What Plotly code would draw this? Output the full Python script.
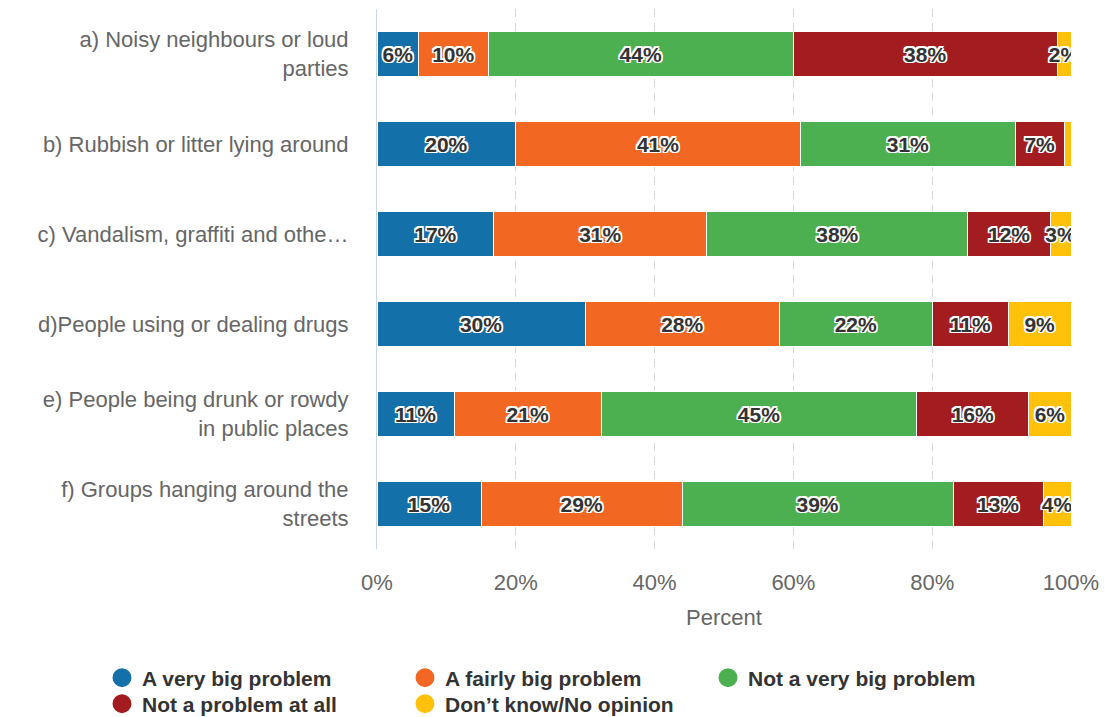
import plotly.graph_objects as go

categories = [
    "a) Noisy neighbours or loud<br>parties",
    "b) Rubbish or litter lying around",
    "c) Vandalism, graffiti and othe…",
    "d)People using or dealing drugs",
    "e) People being drunk or rowdy<br>in public places",
    "f) Groups hanging around the<br>streets",
]

series_names = [
    "A very big problem",
    "A fairly big problem",
    "Not a very big problem",
    "Not a problem at all",
    "Don’t know/No opinion",
]

very_big = [6, 20, 17, 30, 11, 15]
fairly_big = [10, 41, 31, 28, 21, 29]
not_very_big = [44, 31, 38, 22, 45, 39]
not_at_all = [38, 7, 12, 11, 16, 13]
dont_know = [2, 1, 3, 9, 6, 4]

series_values = [very_big, fairly_big, not_very_big, not_at_all, dont_know]
colors = ["#1470a9", "#f26722", "#4caf50", "#a31c1f", "#ffc10a"]

x_ticks = [0, 20, 40, 60, 80, 100]
x_tick_labels = ["0%", "20%", "40%", "60%", "80%", "100%"]

W, H = 1105, 717
FONT = "Liberation Sans, Arial, sans-serif"
outline = ("-1.5px -1.5px 0 #fff, 1.5px -1.5px 0 #fff, -1.5px 1.5px 0 #fff, 1.5px 1.5px 0 #fff, "
           "0 -1.5px 0 #fff, 0 1.5px 0 #fff, -1.5px 0 0 #fff, 1.5px 0 0 #fff")

# legend grid: three columns, two rows (pixel positions of each entry)
legend_ids = ["legend", "legend2", "legend3", "legend4", "legend5"]
legend_pos = [(102, 678), (405, 678), (708, 678), (102, 704), (405, 704)]

fig = go.Figure()
for name, vals, col, lg in zip(series_names, series_values, colors, legend_ids):
    labels = [f"{v}%" if v >= 2 else "" for v in vals]
    fig.add_trace(go.Bar(
        y=categories, x=vals, orientation="h", name=name,
        marker=dict(color=col, line=dict(color="#ffffff", width=1)),
        text=labels, textposition="inside", insidetextanchor="middle",
        textangle=0, constraintext="none",
        textfont=dict(family=FONT, size=21, color="#333333", weight="bold", shadow=outline),
        showlegend=False, hoverinfo="skip",
    ))
    # round legend swatch
    fig.add_trace(go.Scatter(
        x=[None], y=[None], mode="markers", name=name, legend=lg,
        marker=dict(symbol="circle", size=16, color=col, line=dict(color=col, width=3)),
        showlegend=True,
    ))

legend_layout = {}
for lg, (px, py) in zip(legend_ids, legend_pos):
    legend_layout[lg] = dict(
        orientation="h", xref="container", yref="container",
        x=px / W, y=1 - py / H, xanchor="left", yanchor="middle",
        bgcolor="rgba(0,0,0,0)", borderwidth=0,
        font=dict(family=FONT, size=21, color="#333333", weight="bold"),
        itemclick=False, itemdoubleclick=False,
    )

PLOT_L, PLOT_W, PLOT_T, PLOT_B = 377, 694, 9, 549

fig.update_layout(
    width=W, height=H,
    barmode="stack", barnorm="percent", bargap=0.51,
    plot_bgcolor="#ffffff", paper_bgcolor="#ffffff",
    margin=dict(l=PLOT_L, r=W - PLOT_L - PLOT_W, t=PLOT_T, b=H - PLOT_B, autoexpand=False),
    font=dict(family=FONT, color="#666666"),
    xaxis=dict(
        range=[0, 100], tickvals=x_ticks, ticktext=x_tick_labels,
        tickfont=dict(size=22, color="#666666"),
        showgrid=True, gridcolor="#d8d8d8", griddash="8px,6px", gridwidth=1,
        zeroline=False, showline=False, automargin=False,
        ticks="outside", ticklen=14, tickcolor="rgba(0,0,0,0)",
        title=dict(text="Percent", font=dict(size=22, color="#666666"), standoff=15),
    ),
    yaxis=dict(
        categoryorder="array", categoryarray=categories, autorange="reversed",
        tickfont=dict(size=22, color="#666666"),
        showgrid=False, zeroline=False, automargin=False,
        showline=True, linecolor="#ccd6eb", linewidth=1,
        ticks="outside", ticklen=23, tickcolor="rgba(0,0,0,0)",
    ),
    **legend_layout,
)

fig.write_html("out.html")
